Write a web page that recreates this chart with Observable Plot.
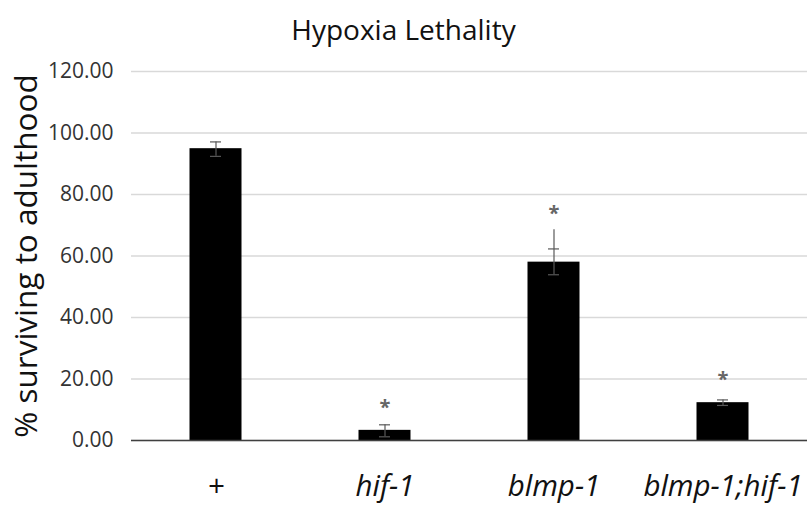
<!DOCTYPE html>
<html>
<head>
<meta charset="utf-8">
<script src="https://cdn.jsdelivr.net/npm/d3@7"></script>
<script src="https://cdn.jsdelivr.net/npm/@observablehq/plot@0.6"></script>
<style>
  html, body { margin: 0; padding: 0; background: #fff; }
  svg { font-family: "Open Sans", sans-serif; }
</style>
</head>
<body>
<div id="chart"></div>
<script>
const title = "Hypoxia Lethality";
const yLabel = "% surviving to adulthood";
const categories = ["+", "hif-1", "blmp-1", "blmp-1;hif-1"];
const means = [94.9, 3.3, 58.0, 12.3];
const errLow = [92.4, 1.2, 53.9, 11.4];
const errHigh = [97.1, 5.1, 62.3, 13.2];
const whiskerTop = [97.1, 5.1, 68.5, 13.2];
const starY = [null, 12.4, 75.4, 21.5];
const yTicks = [0, 20, 40, 60, 80, 100, 120];

const data = categories.map((c, i) => ({
  cat: c, mean: means[i], lo: errLow[i], hi: errHigh[i], top: whiskerTop[i], star: starY[i]
}));

const plot = Plot.plot({
  width: 811,
  height: 506,
  marginLeft: 131,
  marginRight: 4,
  marginTop: 71,
  marginBottom: 66,
  style: { fontFamily: "'Open Sans', sans-serif", background: "#fff" },
  x: { domain: categories, padding: 0, label: null },
  y: { domain: [0, 120], label: null },
  marks: [
    Plot.gridY(yTicks, { stroke: "#d9d9d9", strokeOpacity: 1, strokeWidth: 1.5 }),
    Plot.axisY({ ticks: yTicks, tickSize: 0, tickPadding: 18, tickFormat: d => d.toFixed(2), fontSize: 21, fill: "#333", label: null }),
    Plot.axisX({ tickSize: 0, tickPadding: 35, fontSize: 29.5, fontStyle: "italic", fill: "#111", label: null }),
    Plot.barY(data, { x: "cat", y: "mean", fill: "#000", insetLeft: 58.5, insetRight: 58.5 }),
    Plot.ruleX(data, { x: "cat", y1: "lo", y2: "top", stroke: "#595959", strokeWidth: 1.2 }),
    Plot.tickY(data, { x: "cat", y: "lo", stroke: "#595959", strokeWidth: 1.2, insetLeft: 79, insetRight: 79 }),
    Plot.tickY(data, { x: "cat", y: "hi", stroke: "#595959", strokeWidth: 1.2, insetLeft: 79, insetRight: 79 }),
    Plot.text(data.filter(d => d.star != null), { x: "cat", y: "star", text: () => "*", fontSize: 20, fontWeight: "bold", fill: "#666", dy: 5 }),
    Plot.ruleX([0], { x: () => 0, frameAnchor: "left", stroke: "#595959", strokeWidth: 1.5 }),
    Plot.ruleY([0], { stroke: "#404040", strokeWidth: 1.5 }),
    Plot.text([title], { frameAnchor: "top", dx: -66, dy: -51, fontSize: 28, fill: "#111" }),
    Plot.text([yLabel], { frameAnchor: "left", textAnchor: "middle", rotate: -90, dx: -105, fontSize: 31.5, fill: "#111" })
  ]
});
document.getElementById("chart").appendChild(plot);
</script>
</body>
</html>
